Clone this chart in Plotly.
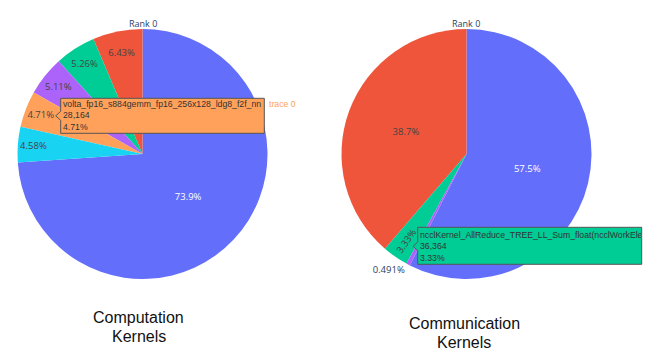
import plotly.graph_objects as go

# ---------------- data ----------------
comp_labels = [
    "volta_h884gemm_fp16_128x128_ldg8_nn",
    "elementwise_kernel (mul)",
    "volta_fp16_s884gemm_fp16_128x128_ldg8_f2f_nt",
    "vectorized_elementwise_kernel (add)",
    "volta_fp16_s884gemm_fp16_256x128_ldg8_f2f_nn",
    "softmax_warp_forward",
]
comp_values = [441900, 38450, 31450, 30560, 28164, 27390]

comm_labels = [
    "ncclKernel_AllReduce_RING_LL_Sum_half(ncclWorkElem)",
    "ncclKernel_Broadcast_RING_LL_Sum_int8_t(ncclWorkElem)",
    "ncclKernel_AllReduce_TREE_LL_Sum_float(ncclWorkElem)",
    "ncclKernel_AllGather_RING_LL_Sum_int8_t(ncclWorkElem)",
]
comm_values = [627900, 422600, 36364, 5362]

comp_colors = ["#636efa", "#EF553B", "#00cc96", "#ab63fa", "#FFA15A", "#19d3f3"]
comm_colors = ["#636efa", "#EF553B", "#00cc96", "#ab63fa"]

pie_titles = ["Rank 0", "Rank 0"]
bottom_titles = [["Computation", "Kernels"], ["Communication", "Kernels"]]

hover_left = ["volta_fp16_s884gemm_fp16_256x128_ldg8_f2f_nn", "28,164", "4.71%"]
hover_right = ["ncclKernel_AllReduce_TREE_LL_Sum_float(ncclWorkElem)", "36,364", "3.33%"]

# the page body has an 8px margin; the figure fills the rest of the window
OX, OY = 8, 8
W, H = 652, 350


def px(x):
    return (x - OX) / W


def py(y):
    return 1 - (y - OY) / H


fig = go.Figure()

# pies: radius 125, centres (142.5,154) and (466.5,154) in window pixels
fig.add_trace(go.Pie(
    labels=comp_labels, values=comp_values,
    marker=dict(colors=comp_colors),
    domain=dict(x=[px(17.5), px(267.5)], y=[py(279), py(29)]),
    textfont=dict(size=9.5, family="Open Sans"),
    automargin=False, sort=True, showlegend=False, name="trace 0",
))
fig.add_trace(go.Pie(
    labels=comm_labels, values=comm_values,
    marker=dict(colors=comm_colors),
    domain=dict(x=[px(341.5), px(591.5)], y=[py(279), py(29)]),
    textfont=dict(size=9.5, family="Open Sans"),
    automargin=False, sort=True, showlegend=False, name="trace 0",
))

annotations = []
# pie titles
for cx, t in zip([142.5, 466], pie_titles):
    annotations.append(dict(
        x=px(cx), y=py(23.5), xref="paper", yref="paper", text=t,
        showarrow=False, xanchor="center", yanchor="middle",
        font=dict(size=9, color="#2a3f5f", family="Open Sans"),
    ))

# bottom captions
for (cx, ys), lines in zip([(138.5, [317, 336]), (464, [323, 342])], bottom_titles):
    for yy, line in zip(ys, lines):
        annotations.append(dict(
            x=px(cx), y=py(yy), xref="paper", yref="paper", text=line,
            showarrow=False, xanchor="center", yanchor="middle",
            font=dict(size=16, color="#111111", family="Liberation Sans, Arial"),
        ))

# simulated hover labels
shapes = []


def hover_shape(tipx, tipy, x0, y0, x1, y1, color):
    pts = [(tipx, tipy), (x0, tipy - 4.5), (x0, y0), (x1, y0), (x1, y1), (x0, y1), (x0, tipy + 4.5)]
    path = "M " + " L ".join(f"{px(a):.5f},{py(b):.5f}" for a, b in pts) + " Z"
    return dict(type="path", path=path, xref="paper", yref="paper",
                fillcolor=color, line=dict(color="#555555", width=1), layer="above")


shapes.append(hover_shape(55.7, 115.8, 60.7, 98.3, 264.3, 133.3, "#FFA15A"))
shapes.append(hover_shape(413.3, 246.3, 417.7, 227.3, 641.7, 264.3, "#00cc96"))

hfont = dict(size=8.7, color="#333333", family="Liberation Sans, Arial")
annotations.append(dict(
    x=px(62.5), y=py(115.8), xref="paper", yref="paper",
    text="<br>".join(hover_left), showarrow=False, align="left",
    xanchor="left", yanchor="middle", borderpad=0, borderwidth=0, font=hfont,
))
annotations.append(dict(
    x=px(267.5), y=py(104), xref="paper", yref="paper",
    text="trace 0", showarrow=False, xanchor="left", yanchor="middle",
    borderpad=0, font=dict(size=8.7, color="#FFA15A", family="Liberation Sans, Arial"),
))
annotations.append(dict(
    x=px(419.8), y=py(246.5), xref="paper", yref="paper",
    text="<br>".join(hover_right), showarrow=False, align="left",
    xanchor="left", yanchor="middle", borderpad=0, borderwidth=0,
    width=221, font=hfont,
))

fig.update_layout(
    width=W, height=H,
    margin=dict(l=0, r=0, t=0, b=0),
    paper_bgcolor="white", plot_bgcolor="white",
    showlegend=False,
    annotations=annotations, shapes=shapes,
    font=dict(family="Open Sans", color="#2a3f5f"),
)

fig.write_html("out.html")
